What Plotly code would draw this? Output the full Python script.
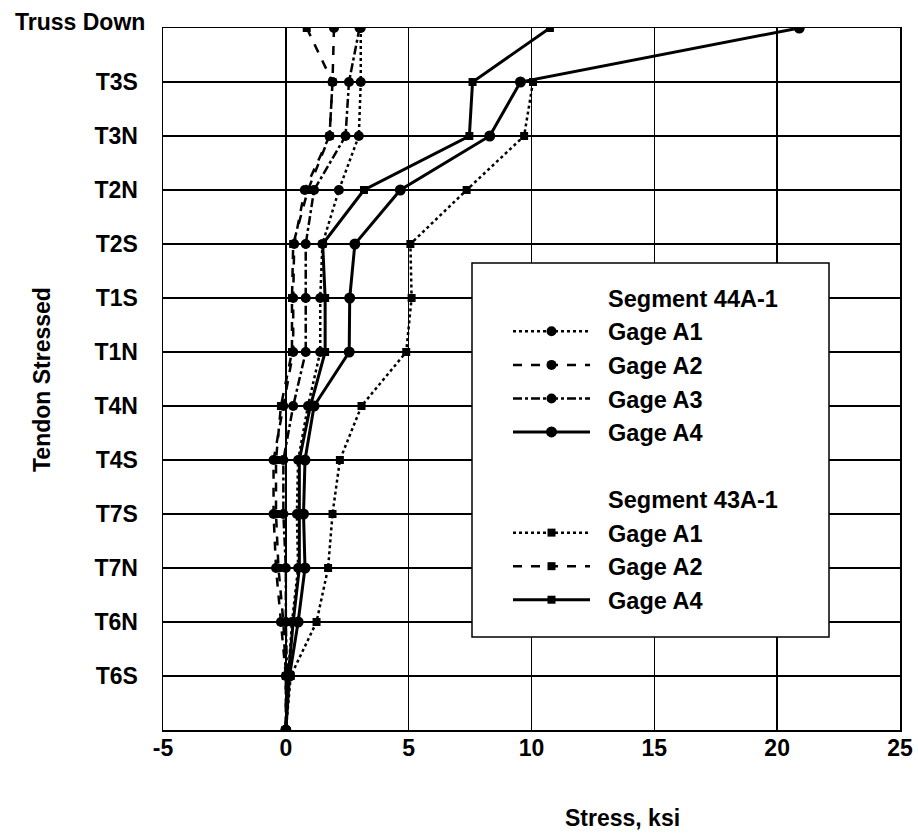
import plotly.graph_objects as go

tendons = ["Truss Down", "T3S", "T3N", "T2N", "T2S", "T1S", "T1N", "T4N",
           "T4S", "T7S", "T7N", "T6N", "T6S", ""]
row_pos = list(range(len(tendons) - 1, -1, -1))  # 13 at top ... 0 at bottom

s44_a1 = [3.05, 3.05, 2.97, 2.16, 1.49, 1.40, 1.40, 0.90, 0.50, 0.45, 0.50, 0.25, 0.10, 0.0]
s44_a2 = [1.96, 1.90, 1.78, 0.77, 0.34, 0.30, 0.30, -0.10, -0.50, -0.50, -0.40, -0.20, 0.0, 0.0]
s44_a3 = [3.00, 2.57, 2.43, 1.15, 0.81, 0.81, 0.81, 0.30, -0.10, -0.10, 0.0, 0.0, 0.05, 0.0]
s44_a4 = [20.9, 9.55, 8.30, 4.66, 2.81, 2.60, 2.58, 1.15, 0.78, 0.72, 0.78, 0.50, 0.15, 0.0]
s43_a1 = [None, 10.06, 9.70, 7.36, 5.07, 5.12, 4.90, 3.08, 2.20, 1.90, 1.72, 1.25, 0.20, 0.0]
s43_a2 = [0.85, 1.90, 1.78, 0.90, 0.30, 0.25, 0.25, -0.20, -0.40, -0.40, -0.30, -0.10, 0.0, 0.0]
s43_a4 = [10.75, 7.60, 7.47, 3.18, 1.50, 1.60, 1.60, 1.00, 0.55, 0.55, 0.55, 0.30, 0.10, 0.0]

x_ticks = [-5, 0, 5, 10, 15, 20, 25]

FONT = "Liberation Sans"
PL, PR, PT, PB = 163, 900, 28, 730
W, H = 918, 834
PW, PH = PR - PL, PB - PT

def px_x(p):
    return (p - PL) / PW

def px_y(p):
    return (PB - p) / PH

fig = go.Figure()
NB = "\u00a0\u00a0"

def header(name):
    fig.add_trace(go.Scatter(x=[None], y=[None], mode="lines", name=NB + name,
                             line=dict(color="rgba(0,0,0,0)", width=0),
                             hoverinfo="skip"))

def series(vals, name, dash, symbol, width=2.5, msize=10):
    fig.add_trace(go.Scatter(x=vals, y=row_pos, mode="lines+markers", name=NB + name,
                             line=dict(color="black", width=width, dash=dash),
                             marker=dict(color="black", symbol=symbol, size=msize),
                             connectgaps=False))

header("Segment 44A-1")
series(s44_a1, "Gage A1", "dot", "circle")
series(s44_a2, "Gage A2", "dash", "circle")
series(s44_a3, "Gage A3", "dashdot", "circle")
series(s44_a4, "Gage A4", "solid", "circle", width=3, msize=11)
header(" ")
header("Segment 43A-1")
series(s43_a1, "Gage A1", "dot", "square", msize=8)
series(s43_a2, "Gage A2", "dash", "square", msize=8)
series(s43_a4, "Gage A4", "solid", "square", width=3, msize=8)

fig.update_layout(
    width=W, height=H,
    margin=dict(l=PL, r=W - PR, t=PT, b=H - PB, autoexpand=False),
    paper_bgcolor="white", plot_bgcolor="white",
    font=dict(family=FONT, size=23, color="black"),
    showlegend=True,
    hovermode=False,
    legend=dict(x=px_x(508), y=px_y(276), xanchor="left", yanchor="top",
                bgcolor="rgba(0,0,0,0)", borderwidth=0, itemwidth=77,
                font=dict(family=FONT, size=23.5, weight="bold"),
                traceorder="normal", itemclick=False),
    shapes=[dict(type="rect", xref="paper", yref="paper",
                 x0=px_x(472), x1=px_x(829), y0=px_y(637), y1=px_y(263),
                 fillcolor="white", line=dict(color="black", width=1.5), layer="above")],
    annotations=[
        dict(text="<b>Truss Down</b>", xref="paper", yref="y", x=0, y=13,
             xanchor="right", yanchor="middle", xshift=-16, yshift=6,
             showarrow=False, font=dict(family=FONT, size=23)),
        dict(text="<b>Stress, ksi</b>", xref="paper", yref="paper", x=px_x(622), y=px_y(818),
             xanchor="center", yanchor="middle", showarrow=False, font=dict(family=FONT, size=23)),
        dict(text="<b>Tendon Stressed</b>", xref="paper", yref="paper", x=px_x(42), y=px_y(380),
             xanchor="center", yanchor="middle", textangle=-90, showarrow=False,
             font=dict(family=FONT, size=23)),
    ],
)

fig.update_xaxes(range=[-5, 25], tickvals=x_ticks, ticktext=[f"<b>{v}</b>" for v in x_ticks],
                 showgrid=True, gridcolor="black", gridwidth=1.5, zeroline=False,
                 showline=True, linecolor="black", linewidth=1.5, mirror=True,
                 ticks="", automargin=False, ticklabelstandoff=-3,
                 tickfont=dict(family=FONT, size=23))

tick_rows = row_pos[1:-1]
fig.update_yaxes(range=[0, 13], tickvals=tick_rows, ticktext=[f"<b>{t}</b>" for t in tendons[1:-1]],
                 showgrid=True, gridcolor="black", gridwidth=1.5, zeroline=False,
                 showline=True, linecolor="black", linewidth=1.5, mirror=True,
                 ticks="", automargin=False, ticklabelstandoff=19,
                 tickfont=dict(family=FONT, size=23))

fig.write_html("out.html", config={"displayModeBar": False, "staticPlot": True},
               post_script="document.body.style.margin='0';")
